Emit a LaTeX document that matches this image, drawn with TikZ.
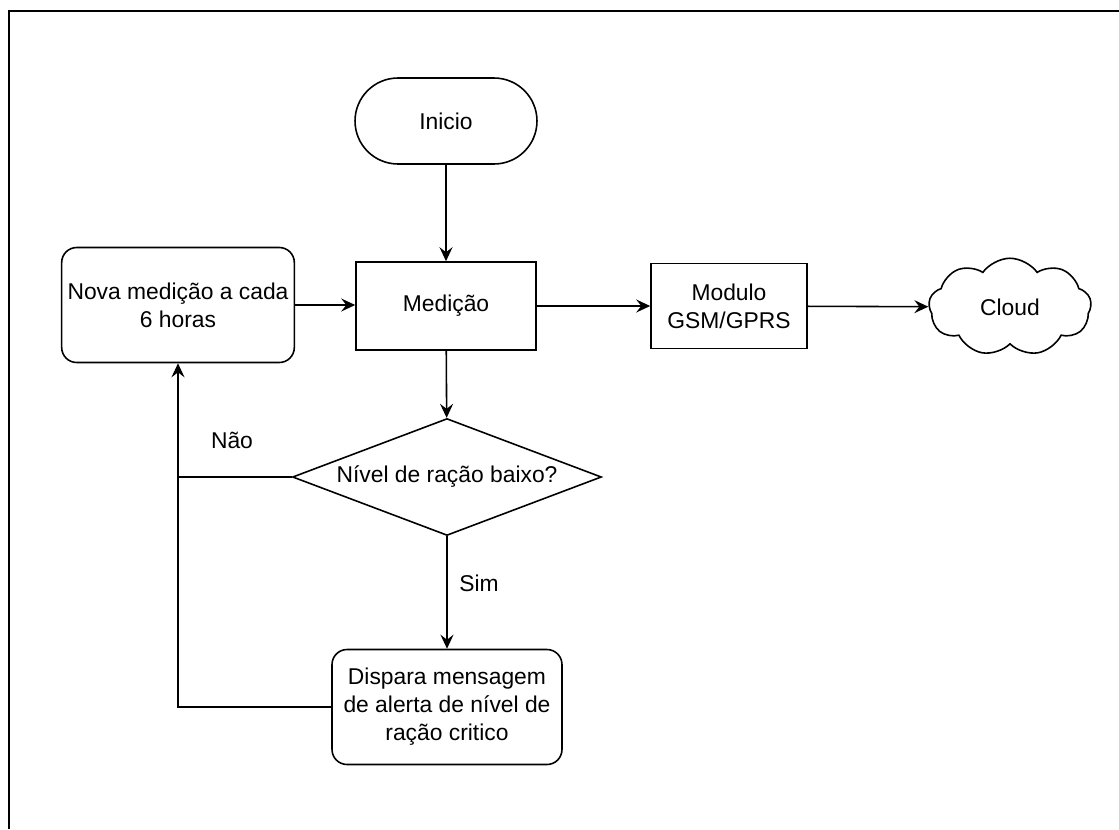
\documentclass[tikz,border=0pt]{standalone}
\usepackage{fontspec}
\setmainfont{Liberation Sans}
\usetikzlibrary{shapes.geometric,shapes.symbols,arrows.meta}

\tikzset{
  caixa/.style={draw, minimum width=3.6cm, minimum height=1.76cm, align=center},
  arred/.style={caixa, rounded corners=0.3cm, minimum width=4.6cm, minimum height=2.3cm},
  seta/.style={-{Stealth[length=2.8mm,width=2.6mm,inset=1mm]}}
}

\begin{document}
\begin{tikzpicture}[x=0.02cm,y=-0.02cm,line width=0.9pt,
  font=\fontsize{13}{16}\selectfont]
\useasboundingbox (0,0) rectangle (1119,829);
\draw[line width=1.7pt] (9,829)--(9,11)--(1119,11);

\node[draw, rounded corners=0.86cm, minimum width=3.64cm, minimum height=1.72cm] (inicio) at (446,121) {Inicio};
\node[caixa] (medicao) at (446,306) {Medição};
\node[caixa, minimum width=3.12cm, minimum height=1.7cm] (modulo) at (729,306) {Modulo\\GSM/GPRS};
\node[cloud, draw, cloud puffs=9, cloud puff arc=110, aspect=1.9, inner sep=0pt,
  minimum width=3.25cm, minimum height=1.95cm] (nuvem) at (1010,307) {Cloud};
\node[arred] (nova) at (178,305) {Nova medição a cada\\6 horas};
\node[diamond, draw, inner sep=0pt, shape aspect=2.64, minimum width=6.18cm, minimum height=2.34cm] (nivel) at (447,477) {Nível de ração baixo?};
\node[arred] (dispara) at (447,707) {Dispara mensagem\\de alerta de nível de\\ração critico};
\node (nao) at (232,440) {Não};
\node (sim) at (479,583) {Sim};

\draw[seta] (inicio)--(medicao);
\draw[seta] (medicao)--(modulo);
\draw[seta] (modulo)--(nuvem);
\draw[seta] (nova.east)--(nova.east -| medicao.west);
\draw[seta] (medicao)--(nivel);
\draw[seta] (nivel)--(dispara);
\draw[seta] (nivel.west)-|(nova.south);
\coordinate (juncao) at (nivel.west -| nova.south);
\draw (dispara.west)-|(juncao);
\end{tikzpicture}
\end{document}
